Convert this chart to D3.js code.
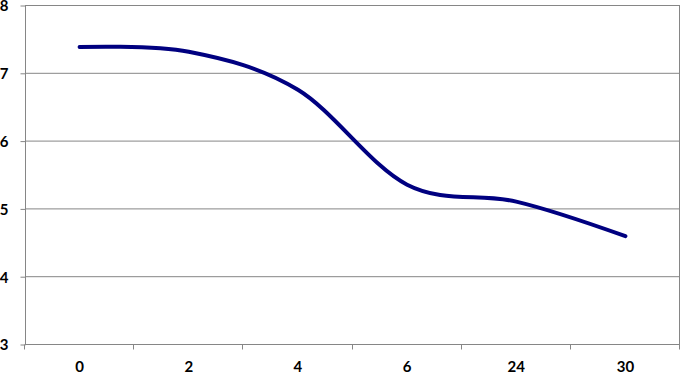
<!DOCTYPE html>
<head>
    <meta charset="utf-8">
    <script src="https://d3js.org/d3.v7.min.js"></script>
    <style>
        body { margin:0; background:#fff; }
        .grid line { stroke: #868686; stroke-width: 1; }
        .axis path, .axis line { stroke: #868686; stroke-width: 1; }
        text { font-family: Lato, sans-serif; font-weight: bold; font-size: 15px; fill: #000; }
        .series { fill: none; stroke: #000080; stroke-width: 4; stroke-linecap: round; }
    </style>
</head>
<body>
<script>
    var categories = ['0', '2', '4', '6', '24', '30'];
    var values = [7.38, 7.31, 6.75, 5.35, 5.10, 4.59];
    var yTicks = [3, 4, 5, 6, 7, 8];

    var width = 681, height = 373;
    var plotLeft = 25, plotRight = 680, plotTop = 5, plotBottom = 344;

    var svg = d3.select('body').append('svg')
        .attr('width', width)
        .attr('height', height);

    var x = d3.scaleBand().domain(categories).range([plotLeft, plotRight]).padding(0);
    var y = d3.scaleLinear().domain([3, 8]).range([plotBottom, plotTop]);

    // horizontal gridlines
    svg.append('g').attr('class', 'grid')
        .selectAll('line')
        .data(yTicks.slice(1))
        .enter().append('line')
        .attr('x1', plotLeft).attr('x2', plotRight)
        .attr('y1', d => y(d) + 0.5).attr('y2', d => y(d) + 0.5);

    // right border of plot area
    svg.append('line')
        .attr('x1', plotRight - 0.5).attr('x2', plotRight - 0.5)
        .attr('y1', plotTop).attr('y2', plotBottom)
        .style('stroke', '#868686');

    // y axis
    var yAxis = svg.append('g').attr('class', 'axis')
        .attr('transform', 'translate(' + (plotLeft + 0.5) + ',0.5)')
        .call(d3.axisLeft(y).tickValues(yTicks).tickSize(5).tickPadding(12).tickFormat(d3.format('d')));
    yAxis.select('.domain').attr('d', 'M0,' + plotTop + 'V' + plotBottom);
    yAxis.selectAll('text').attr('dy', '0.36em').style('font-size', '15px');

    // x axis with ticks between categories
    var xAxis = svg.append('g').attr('class', 'axis')
        .attr('transform', 'translate(0,' + (plotBottom + 0.5) + ')');
    xAxis.append('line').attr('x1', plotLeft).attr('x2', plotRight);
    var edges = categories.map(c => x(c)).concat([plotRight]);
    xAxis.selectAll('.tk').data(edges).enter().append('line')
        .attr('class', 'tk')
        .attr('x1', d => Math.round(d) - 0.5).attr('x2', d => Math.round(d) - 0.5)
        .attr('y1', 0).attr('y2', 5);
    xAxis.selectAll('text').data(categories).enter().append('text')
        .attr('x', d => x(d) + x.bandwidth() / 2)
        .attr('y', 27)
        .attr('text-anchor', 'middle')
        .text(d => d);

    var line = d3.line()
        .x((d, i) => x(categories[i]) + x.bandwidth() / 2)
        .y(d => y(d))
        .curve(d3.curveCardinal.tension(0));

    svg.append('path')
        .datum(values)
        .attr('class', 'series')
        .attr('d', line);
</script>
</body>
